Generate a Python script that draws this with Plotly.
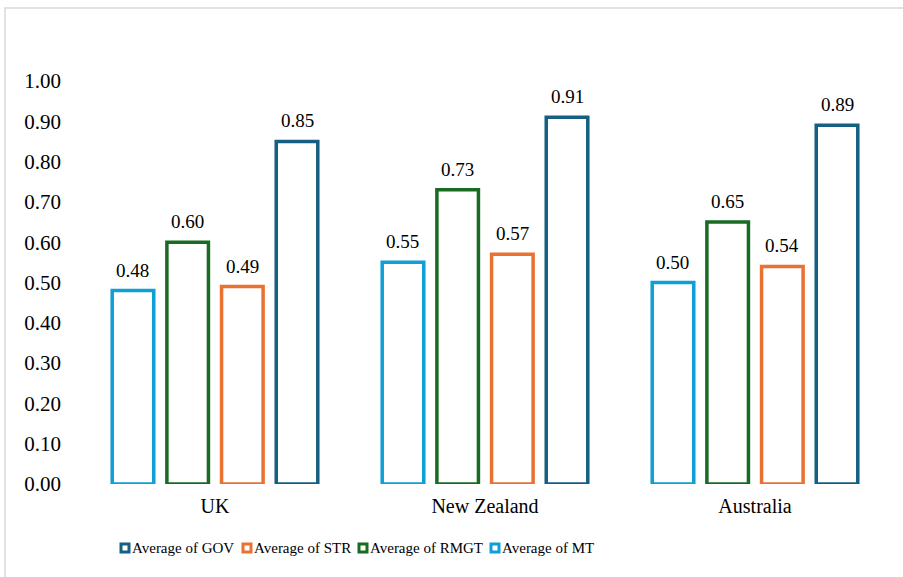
import plotly.graph_objects as go

# Country groups on the x axis
countries = ["UK", "New Zealand", "Australia"]

# Average scores per dimension, one list per series (same country order)
avg_mt = [0.48, 0.55, 0.50]
avg_rmgt = [0.60, 0.73, 0.65]
avg_str = [0.49, 0.57, 0.54]
avg_gov = [0.85, 0.91, 0.89]

# Y axis tick values
y_ticks = [0.0, 0.1, 0.2, 0.3, 0.4, 0.5, 0.6, 0.7, 0.8, 0.9, 1.0]

series = [
    ("Average of MT", avg_mt, "#0F9ED5"),
    ("Average of RMGT", avg_rmgt, "#196B24"),
    ("Average of STR", avg_str, "#E97132"),
    ("Average of GOV", avg_gov, "#156082"),
]

FONT = "Liberation Serif"
BARGAP = 0.19
BARGROUPGAP = 0.24

W, H = 903, 577
L, R, T, B = 80, 13, 81, 93
pw, ph = W - L - R, H - T - B


def px_x(p):
    return (p - L) / pw


def px_y(p):
    return (H - B - p) / ph


fig = go.Figure()
annotations = []
n = len(series)
slot = (1 - BARGAP) / n
for k, (name, vals, color) in enumerate(series):
    fig.add_trace(go.Bar(
        name=name,
        x=countries,
        y=vals,
        marker=dict(color="white", line=dict(color=color, width=3.5)),
        showlegend=False,
    ))
    # value labels above each bar
    for i, v in enumerate(vals):
        annotations.append(dict(
            x=i + (k - (n - 1) / 2) * slot, y=v, xref="x", yref="y",
            text=f"{v:.2f}", showarrow=False,
            yanchor="bottom", yshift=8,
            font=dict(family=FONT, size=19, color="black"),
        ))

# Legend drawn as outlined squares with labels, GOV first
legend_x = [120, 242, 358, 490]
legend_y = 548
shapes = []
for (name, vals, color), lx in zip(reversed(series), legend_x):
    shapes.append(dict(
        type="rect", xref="paper", yref="paper",
        x0=px_x(lx + 1), x1=px_x(lx + 9),
        y0=px_y(legend_y + 4), y1=px_y(legend_y - 4),
        line=dict(color=color, width=3), fillcolor="white",
    ))
    annotations.append(dict(
        x=px_x(lx + 10), y=px_y(legend_y), xref="paper", yref="paper",
        xanchor="left", yanchor="middle", showarrow=False,
        text=name, font=dict(family=FONT, size=15, color="black"),
    ))

# light outer frame
shapes.append(dict(
    type="rect", xref="paper", yref="paper",
    x0=px_x(5), x1=px_x(W + 5), y0=px_y(H + 5), y1=px_y(8),
    line=dict(color="#d9d9d9", width=1.5),
    fillcolor="rgba(0,0,0,0)", layer="below",
))

fig.update_layout(
    width=W, height=H,
    margin=dict(l=L, r=R, t=T, b=B),
    paper_bgcolor="white",
    plot_bgcolor="white",
    barmode="group",
    bargap=BARGAP,
    bargroupgap=BARGROUPGAP,
    font=dict(family=FONT, color="black"),
    showlegend=False,
    xaxis=dict(
        showgrid=False, showline=False, zeroline=False,
        tickfont=dict(family=FONT, size=20, color="black"),
        ticks="", ticklabelstandoff=8,
    ),
    yaxis=dict(
        range=[0, 1.0],
        tickvals=y_ticks,
        tickformat=".2f",
        showgrid=False, showline=False, zeroline=False,
        tickfont=dict(family=FONT, size=21, color="black"),
        ticklabelstandoff=18,
    ),
    annotations=annotations,
    shapes=shapes,
)

fig.write_html("out.html")
